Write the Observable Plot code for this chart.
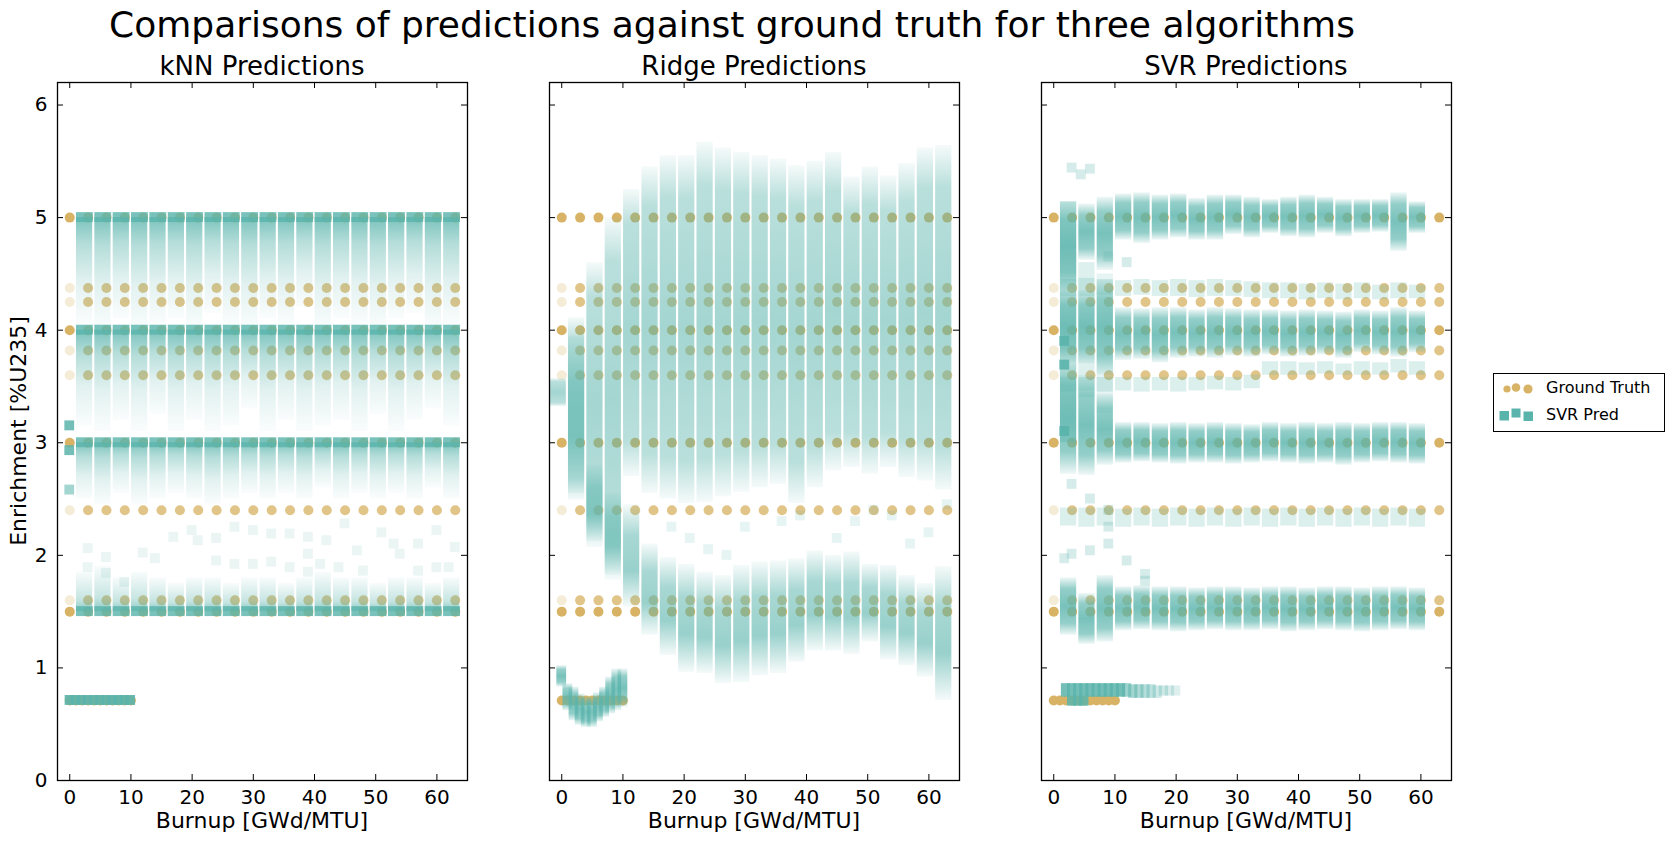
<!DOCTYPE html>
<html><head><meta charset="utf-8">
<script src="https://cdn.jsdelivr.net/npm/d3@7"></script>
<script src="https://cdn.jsdelivr.net/npm/@observablehq/plot@0.6"></script>
<style>
body{margin:0;background:#fff;}
#fig{position:relative;width:1673px;height:842px;background:#fff;overflow:hidden;font-family:"DejaVu Sans",sans-serif;}
#fig svg.panel{position:absolute;top:0;}
#overlay{position:absolute;left:0;top:0;}
</style></head>
<body>
<svg width="0" height="0" style="position:absolute">
 <defs>
  <linearGradient id="gFadeDown" x1="0" y1="0" x2="0" y2="1">
   <stop offset="0" stop-color="#5ab4ac" stop-opacity="0.8"/>
   <stop offset="0.25" stop-color="#5ab4ac" stop-opacity="0.45"/>
   <stop offset="0.6" stop-color="#5ab4ac" stop-opacity="0.18"/>
   <stop offset="1" stop-color="#5ab4ac" stop-opacity="0.03"/>
  </linearGradient>
  <linearGradient id="gFadeUp" x1="0" y1="1" x2="0" y2="0">
   <stop offset="0" stop-color="#5ab4ac" stop-opacity="0.7"/>
   <stop offset="0.3" stop-color="#5ab4ac" stop-opacity="0.35"/>
   <stop offset="1" stop-color="#5ab4ac" stop-opacity="0.04"/>
  </linearGradient>
  <linearGradient id="gBell" x1="0" y1="0" x2="0" y2="1">
   <stop offset="0" stop-color="#5ab4ac" stop-opacity="0.06"/>
   <stop offset="0.12" stop-color="#5ab4ac" stop-opacity="0.42"/>
   <stop offset="0.5" stop-color="#5ab4ac" stop-opacity="0.55"/>
   <stop offset="0.88" stop-color="#5ab4ac" stop-opacity="0.42"/>
   <stop offset="1" stop-color="#5ab4ac" stop-opacity="0.06"/>
  </linearGradient>
  <linearGradient id="gBellMid" x1="0" y1="0" x2="0" y2="1">
   <stop offset="0" stop-color="#5ab4ac" stop-opacity="0.06"/>
   <stop offset="0.3" stop-color="#5ab4ac" stop-opacity="0.52"/>
   <stop offset="0.65" stop-color="#5ab4ac" stop-opacity="0.62"/>
   <stop offset="1" stop-color="#5ab4ac" stop-opacity="0.06"/>
  </linearGradient>
  <linearGradient id="gBellDense" x1="0" y1="0" x2="0" y2="1">
   <stop offset="0" stop-color="#5ab4ac" stop-opacity="0.1"/>
   <stop offset="0.2" stop-color="#5ab4ac" stop-opacity="0.65"/>
   <stop offset="0.5" stop-color="#5ab4ac" stop-opacity="0.82"/>
   <stop offset="0.8" stop-color="#5ab4ac" stop-opacity="0.65"/>
   <stop offset="1" stop-color="#5ab4ac" stop-opacity="0.1"/>
  </linearGradient>
 </defs>
</svg>
<div id="fig"></div>
<script>
// ---------------- shared: ground truth and axes ----------------
const burnups = [0,3,6,9,12,15,18,21,24,27,30,33,36,39,42,45,48,51,54,57,60,63];
const lowBurnups = [0,1,2,3,4,5,6,7,8,9,10];
const gtLevels = [5, 4.375, 4.25, 4, 3.82, 3.6, 3, 2.4, 1.6, 1.5];
const gtMainLevels = [5, 4, 3, 1.5];
const gtLowLevel = 0.711;
const xTicks = [0,10,20,30,40,50,60];
const yTicks = [0,1,2,3,4,5,6];

// ---------------- kNN predictions ----------------
const knnB = [3,6,9,12,15,18,21,24,27,30,33,36,39,42,45,48,51,54,57,60,63];
const knnLevels = [5, 4, 3, 1.5];
const knn5Bot = [4.05,4.0,4.1,4.0,4.05,4.1,4.0,4.15,4.05,4.0,4.1,4.05,4.2,4.0,4.1,4.05,4.0,4.1,4.15,4.0,4.05];
const knn4Bot = [3.15,3.1,3.2,3.1,3.25,3.1,3.2,3.1,3.15,3.3,3.1,3.2,3.1,3.15,3.2,3.1,3.25,3.1,3.2,3.3,3.15];
const knn3Bot = [2.5,2.45,2.55,2.45,2.5,2.55,2.5,2.45,2.5,2.55,2.5,2.55,2.5,2.6,2.5,2.55,2.5,2.55,2.5,2.6,2.5];
const knn15Top = [1.85,1.9,1.8,1.85,1.8,1.75,1.8,1.8,1.75,1.8,1.8,1.75,1.8,1.85,1.8,1.8,1.75,1.8,1.8,1.75,1.8];
const knnZeroV = [3.15, 2.93, 2.58];
const knnZeroD = [0.85, 0.85, 0.55];
const knnScatterB = [3,3,6,6,9,12,14,17,20,21,24,24,27,27,30,30,33,33,36,36,39,39,39,41,42,44,45,47,48,51,53,54,57,57,60,60,62,63];
const knnScatterV = [2.06,1.89,1.98,1.84,1.76,2.02,1.97,2.16,2.22,2.13,1.95,2.15,1.92,2.25,1.92,2.22,2.19,1.94,1.89,2.19,2.01,2.16,1.85,1.92,2.13,1.89,2.28,2.04,1.86,2.2,2.1,2.01,1.86,2.1,1.89,2.22,1.89,2.07];

// ---------------- Ridge predictions ----------------
const ridgeUpTop = [3.57,4.11,4.6,5.0,5.25,5.45,5.55,5.55,5.67,5.62,5.58,5.55,5.52,5.46,5.5,5.58,5.36,5.45,5.37,5.48,5.62,5.64];
const ridgeUpBot = [3.32,2.49,2.07,1.78,2.7,2.55,2.5,2.46,2.47,2.52,2.56,2.6,2.63,2.46,2.6,2.75,2.78,2.72,2.78,2.69,2.66,2.58];
const ridgeTransB = [3, 6, 9];
const ridgeTransTop = [3.95, 2.8, 2.55];
const ridgeTransBot = [2.55, 2.12, 1.82];
const ridgeLowB = [12,15,18,21,24,27,30,33,36,39,42,45,48,51,54,57,60,63];
const ridgeLowTop = [2.45,2.1,1.98,1.92,1.85,1.82,1.91,1.94,1.95,1.97,2.04,2.0,2.03,1.92,1.91,1.82,1.75,1.9];
const ridgeLowBot = [1.54,1.29,1.11,0.96,0.95,0.86,0.87,0.93,0.95,1.05,1.15,1.15,1.12,1.23,1.07,1.02,0.92,0.71];
const ridgeZeroTop = [1.02,0.86,0.83,0.77,0.74,0.74,0.78,0.83,0.92,0.99,0.99];
const ridgeZeroBot = [0.83,0.62,0.53,0.49,0.47,0.47,0.52,0.56,0.59,0.62,0.65];
const ridgeScatterB = [18,21,24,27,30,36,39,45,48,51,54,57,60,63];
const ridgeScatterV = [2.25,2.15,2.05,2.0,2.25,2.3,2.35,2.15,2.3,2.4,2.35,2.1,2.2,2.45];

// ---------------- SVR predictions ----------------
const svrB = [3,6,9,12,15,18,21,24,27,30,33,36,39,42,45,48,51,54,57,60];
const svr5Top = [5.14,5.12,5.18,5.21,5.22,5.2,5.21,5.17,5.2,5.2,5.18,5.16,5.18,5.2,5.18,5.16,5.16,5.16,5.22,5.14];
const svr5Bot = [4.35,4.62,4.53,4.8,4.77,4.8,4.82,4.8,4.8,4.85,4.82,4.86,4.83,4.82,4.86,4.83,4.86,4.87,4.7,4.86];
const svr4Top = [4.35,4.35,4.44,4.2,4.19,4.2,4.2,4.18,4.2,4.19,4.18,4.18,4.17,4.18,4.17,4.16,4.18,4.17,4.2,4.17];
const svr4Bot = [3.7,3.7,3.6,3.73,3.74,3.71,3.75,3.76,3.75,3.77,3.76,3.78,3.76,3.77,3.78,3.75,3.8,3.78,3.76,3.8];
const svr3Top = [3.7,3.6,3.43,3.18,3.18,3.17,3.18,3.17,3.18,3.17,3.16,3.18,3.17,3.18,3.17,3.18,3.17,3.18,3.18,3.17];
const svr3Bot = [2.72,2.71,2.8,2.82,2.83,2.82,2.81,2.82,2.82,2.81,2.82,2.83,2.82,2.81,2.82,2.8,2.82,2.83,2.82,2.81];
const svr15Top = [1.8,1.66,1.82,1.72,1.73,1.72,1.72,1.71,1.72,1.72,1.71,1.72,1.72,1.71,1.72,1.72,1.71,1.72,1.72,1.71];
const svr15Bot = [1.29,1.21,1.23,1.33,1.34,1.33,1.32,1.33,1.34,1.33,1.33,1.34,1.32,1.33,1.34,1.33,1.32,1.33,1.34,1.33];
const svr438Top = [4.45,4.46,4.45,4.44,4.45,4.44,4.45,4.44,4.45,4.44,4.43,4.42,4.42,4.41,4.42,4.41,4.42,4.4,4.42,4.4];
const svr438Bot = [4.3,4.3,4.31,4.3,4.31,4.3,4.3,4.29,4.3,4.3,4.29,4.28,4.28,4.27,4.28,4.27,4.28,4.27,4.28,4.28];
const svr36Top = [3.58,3.58,3.58,3.58,3.58,3.58,3.58,3.58,3.59,3.58,3.6,3.72,3.72,3.71,3.72,3.7,3.72,3.71,3.74,3.72];
const svr36Bot = [3.45,3.46,3.45,3.46,3.45,3.46,3.45,3.46,3.47,3.46,3.48,3.6,3.6,3.6,3.61,3.6,3.6,3.6,3.62,3.6];
const svr24Top = [2.42,2.42,2.42,2.41,2.42,2.41,2.42,2.41,2.42,2.41,2.42,2.41,2.42,2.41,2.42,2.41,2.42,2.41,2.42,2.41];
const svr24Bot = [2.26,2.25,2.26,2.25,2.26,2.25,2.26,2.25,2.26,2.25,2.26,2.25,2.26,2.25,2.26,2.25,2.26,2.25,2.26,2.25];
const svrBridgeB = [3, 6, 9];
const svrBridgeTop = [5.14, 4.6, 4.5];
const svrBridgeBot = [3.0, 3.4, 3.26];
const svrBridgeD = [0.35, 0.2, 0.15];
const svrSolidB = [1.8, 1.8, 1.8];
const svrSolidV = [3.9, 3.69, 3.1];
const svrScatterB = [3, 4.5, 6, 3, 3, 6, 6, 9, 9, 9, 12, 15, 15, 1.8, 9, 12];
const svrScatterV = [5.44, 5.38, 5.43, 2.63, 2.01, 2.5, 2.04, 2.4, 2.25, 2.1, 1.95, 1.83, 1.77, 1.97, 4.65, 4.6];
const svrLowB = [2,3,4,5,6,7,8,9,10,11,12,13,14,15,16,17,18,19,20];
const svrLowTop = [0.86,0.86,0.86,0.86,0.86,0.86,0.86,0.86,0.86,0.86,0.86,0.85,0.85,0.85,0.85,0.84,0.84,0.84,0.84];
const svrLowBot = [0.74,0.66,0.66,0.66,0.74,0.74,0.74,0.74,0.74,0.74,0.74,0.73,0.73,0.73,0.73,0.73,0.75,0.75,0.75];
const svrLowD = [0.85,0.85,0.85,0.85,0.85,0.85,0.85,0.85,0.85,0.85,0.6,0.55,0.5,0.45,0.4,0.3,0.3,0.25,0.2];

// ---------------- styling constants ----------------
const TEAL = "#5ab4ac", TAN = "#d8b365";
const COL_L = 1.9, COL_R = 0.75;   // column extent around a burnup (burnup units)
const SQ_W = 0.8, SQ_H = 0.044;    // half-size of a single square marker

// ---------------- table builders ----------------
const gtRows = [];
for (const v of gtLevels) for (const b of burnups)
  gtRows.push({b, v, o: gtMainLevels.includes(v) ? 1 : (b === 0 ? 0.25 : 0.78)});
for (const b of lowBurnups) gtRows.push({b, v: gtLowLevel, o: 1});

const cols = (bs, tops, bots, l = COL_L, r = COL_R) => bs.map((b, i) => ({x1: b - l, x2: b + r, y1: bots[i], y2: tops[i]}));
const squares = (bs, vs, ds) => bs.map((b, i) => ({x1: b - SQ_W, x2: b + SQ_W, y1: vs[i] - SQ_H, y2: vs[i] + SQ_H, d: ds ? ds[i] : 1}));
const R = (data, fill, extra = {}) => Plot.rect(data, {x1: "x1", x2: "x2", y1: "y1", y2: "y2", fill, ...extra});

// kNN
const knnExactRows = [];
for (const lv of knnLevels) for (const b of knnB) knnExactRows.push({x1: b - COL_L, x2: b + COL_R + 0.1, y1: lv - SQ_H, y2: lv + SQ_H});
const knnLowRow = lowBurnups.map(b => ({x1: b - 0.75, x2: b + 0.75, y1: gtLowLevel - SQ_H, y2: gtLowLevel + SQ_H}));
const knnMarks = [
  R(cols(knnB, knnB.map(() => 5), knn5Bot), "url(#gFadeDown)"),
  R(cols(knnB, knnB.map(() => 4), knn4Bot), "url(#gFadeDown)"),
  R(cols(knnB, knnB.map(() => 3), knn3Bot), "url(#gFadeDown)"),
  R(cols(knnB, knn15Top, knnB.map(() => 1.5)), "url(#gFadeUp)"),
  R(squares(knnScatterB, knnScatterV), TEAL, {fillOpacity: 0.13}),
  R(knnExactRows, TEAL, {fillOpacity: 0.82}),
  R(squares([0,0,0], knnZeroV, knnZeroD), TEAL, {fillOpacity: "d"}),
  R(knnLowRow, TEAL, {fillOpacity: 0.9})
];

// Ridge
const ridgeMarks = [
  R(cols(burnups, ridgeUpTop, ridgeUpBot), "url(#gBell)"),
  R(cols(ridgeTransB, ridgeTransTop, ridgeTransBot), "url(#gBellMid)"),
  R(cols(ridgeLowB, ridgeLowTop, ridgeLowBot), "url(#gBellMid)"),
  R(squares(ridgeScatterB, ridgeScatterV), TEAL, {fillOpacity: 0.15}),
  R(cols(lowBurnups, ridgeZeroTop, ridgeZeroBot, 0.8, 0.8), "url(#gBellDense)")
];

// SVR
const svrMarks = [
  R(cols(svrBridgeB, svrBridgeTop, svrBridgeBot).map((d, i) => ({...d, d: svrBridgeD[i]})), TEAL, {fillOpacity: "d"}),
  R(cols(svrB, svr438Top, svr438Bot), TEAL, {fillOpacity: 0.22}),
  R(cols(svrB, svr36Top, svr36Bot), TEAL, {fillOpacity: 0.22}),
  R(cols(svrB, svr24Top, svr24Bot), TEAL, {fillOpacity: 0.22}),
  R(cols(svrB, svr5Top, svr5Bot), "url(#gBellDense)"),
  R(cols(svrB, svr4Top, svr4Bot), "url(#gBellDense)"),
  R(cols(svrB, svr3Top, svr3Bot), "url(#gBellDense)"),
  R(cols(svrB, svr15Top, svr15Bot), "url(#gBellDense)"),
  R(squares(svrScatterB, svrScatterV), TEAL, {fillOpacity: 0.25}),
  R(squares(svrSolidB, svrSolidV), TEAL, {fillOpacity: 0.9}),
  R(cols(svrLowB, svrLowTop, svrLowBot, 0.75, 0.75).map((d, i) => ({...d, d: svrLowD[i]})), TEAL, {fillOpacity: "d"})
];

// ---------------- panels ----------------
const W = 470, H = 842, ML = 50, MR = 10, MT = 82, MB = 62;
const FW = W - ML - MR, FH = H - MT - MB, TICK = 6;

function panel(dataMarks, showY) {
  return Plot.plot({
    width: W, height: H, marginLeft: ML, marginRight: MR, marginTop: MT, marginBottom: MB,
    x: {domain: [-2, 65], axis: null},
    y: {domain: [0, 6.2], axis: null},
    style: {fontFamily: "'DejaVu Sans', sans-serif", fontSize: "20px", color: "black", background: "transparent", overflow: "visible"},
    marks: [
      Plot.dot(gtRows, {x: "b", y: "v", r: 5, fill: TAN, fillOpacity: "o"}),
      ...dataMarks,
      Plot.frame({stroke: "black", strokeWidth: 1.3}),
      Plot.tickX(xTicks, {x: d => d, insetTop: FH - TICK, stroke: "black"}),
      Plot.tickX(xTicks, {x: d => d, insetBottom: FH - TICK, stroke: "black"}),
      Plot.tickY(yTicks, {y: d => d, insetLeft: FW - TICK, stroke: "black"}),
      Plot.tickY(yTicks, {y: d => d, insetRight: FW - TICK, stroke: "black"}),
      Plot.axisX(xTicks, {anchor: "bottom", tickSize: 0, tickPadding: 9, label: null, fontSize: 20, tickFormat: d => String(d)}),
      showY ? Plot.axisY(yTicks, {anchor: "left", tickSize: 0, tickPadding: 10, label: null, fontSize: 20, tickFormat: d => String(d)}) : null
    ]
  });
}

const fig = document.getElementById("fig");
const lefts = [7, 499, 991];
[panel(knnMarks, true), panel(ridgeMarks, false), panel(svrMarks, false)].forEach((svg, i) => {
  svg.classList.add("panel");
  svg.style.left = lefts[i] + "px";
  svg.style.maxWidth = "none";
  fig.appendChild(svg);
});

// ---------------- titles, labels, legend ----------------
const subtitles = ["kNN Predictions", "Ridge Predictions", "SVR Predictions"];
const centers = lefts.map(l => l + ML + FW / 2);
let ov = `<svg id="overlay" width="1673" height="842" font-family="'DejaVu Sans', sans-serif" fill="black">`;
ov += `<text x="732" y="37" font-size="36" text-anchor="middle">Comparisons of predictions against ground truth for three algorithms</text>`;
subtitles.forEach((t, i) => {
  ov += `<text x="${centers[i]}" y="75" font-size="26" text-anchor="middle">${t}</text>`;
  ov += `<text x="${centers[i]}" y="828" font-size="22" text-anchor="middle">Burnup [GWd/MTU]</text>`;
});
ov += `<text transform="translate(26,431) rotate(-90)" font-size="22" text-anchor="middle">Enrichment [%U235]</text>`;
ov += `<rect x="1493.5" y="373.5" width="171" height="58" fill="white" stroke="black" stroke-width="1"/>`;
ov += `<circle cx="1507" cy="389" r="3.6" fill="${TAN}"/><circle cx="1516" cy="387.5" r="4.3" fill="${TAN}"/><circle cx="1528" cy="389" r="4.6" fill="${TAN}"/>`;
ov += `<rect x="1499.5" y="411" width="9.5" height="9.5" fill="${TEAL}"/><rect x="1511.5" y="408.5" width="9" height="9" fill="${TEAL}"/><rect x="1523.5" y="411.5" width="9.5" height="9.5" fill="${TEAL}"/>`;
ov += `<text x="1546" y="393" font-size="16">Ground Truth</text>`;
ov += `<text x="1546" y="420" font-size="16">SVR Pred</text>`;
ov += `</svg>`;
fig.insertAdjacentHTML("beforeend", ov);
</script>
</body></html>
